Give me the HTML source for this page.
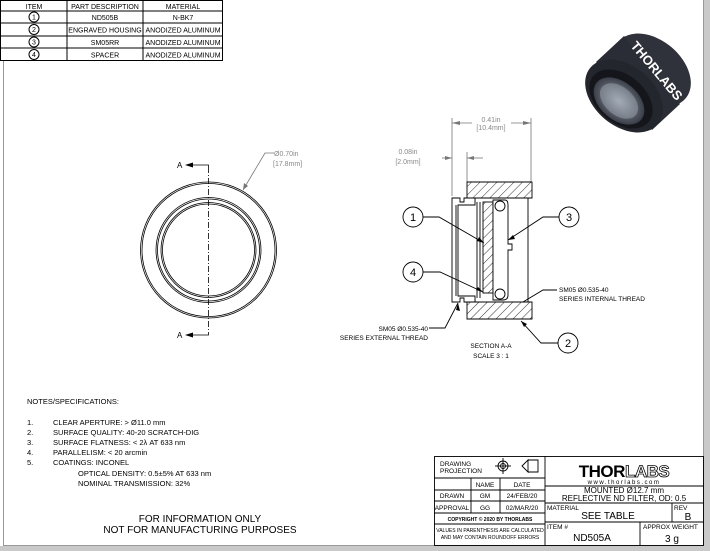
<!DOCTYPE html>
<html><head><meta charset="utf-8"><style>
html,body{margin:0;padding:0;background:#c9c9c9;}
svg{display:block;font-family:"Liberation Sans",sans-serif;}
</style></head><body>
<svg width="710" height="551" viewBox="0 0 710 551" xmlns="http://www.w3.org/2000/svg">
<defs>
<pattern id="h" width="6" height="6" patternUnits="userSpaceOnUse" patternTransform="rotate(45)">
<rect width="6" height="6" fill="#fff"/><line x1="0" y1="0" x2="0" y2="6" stroke="#000" stroke-width="0.8"/></pattern>
<radialGradient id="g1" cx="0.5" cy="0.5" r="0.5"><stop offset="0" stop-color="#9aa2ae"/><stop offset="1" stop-color="#3a3e48"/></radialGradient>
</defs>
<rect x="0" y="0" width="704" height="546" fill="#fff"/>
<line x1="703.5" y1="0" x2="703.5" y2="546" stroke="#999"/>
<line x1="3.5" y1="60" x2="3.5" y2="546" stroke="#999"/>
<line x1="3" y1="545.5" x2="704" y2="545.5" stroke="#999"/>

<g stroke="#000" fill="none" stroke-width="1">
<rect x="0.5" y="0.5" width="222" height="60"/>
<line x1="0" y1="11" x2="222" y2="11"/><line x1="0" y1="23" x2="222" y2="23"/>
<line x1="0" y1="36" x2="222" y2="36"/><line x1="0" y1="48" x2="222" y2="48"/>
<line x1="67" y1="0" x2="67" y2="61"/><line x1="143" y1="0" x2="143" y2="61"/>
<circle cx="34" cy="17" r="5"/><circle cx="34" cy="29.5" r="5"/><circle cx="34" cy="42" r="5"/><circle cx="34" cy="54.5" r="5"/>
</g>
<g font-size="7" text-anchor="middle" fill="#000">
<text x="34" y="9">ITEM</text><text x="105" y="9">PART DESCRIPTION</text><text x="183" y="9">MATERIAL</text>
<text x="34" y="19.5">1</text><text x="34" y="32">2</text><text x="34" y="44.5">3</text><text x="34" y="57">4</text>
<text x="105" y="20">ND505B</text><text x="183" y="20">N-BK7</text>
<text x="105" y="32.5">ENGRAVED HOUSING</text><text x="183" y="32.5">ANODIZED ALUMINUM</text>
<text x="105" y="45">SM05RR</text><text x="183" y="45">ANODIZED ALUMINUM</text>
<text x="105" y="57.5">SPACER</text><text x="183" y="57.5">ANODIZED ALUMINUM</text>
</g>

<!-- product photo -->
<g>
<ellipse cx="652" cy="70" rx="44" ry="30" transform="rotate(40 652 70)" fill="#2f323a"/>
<polygon points="624,36 680,104 652,130 596,62" fill="#2a2d35"/>
<ellipse cx="624" cy="96" rx="44" ry="30" transform="rotate(40 624 96)" fill="#23262d"/>
<ellipse cx="621" cy="99" rx="36" ry="24" transform="rotate(40 621 99)" fill="#14161b"/>
<ellipse cx="619" cy="101" rx="29" ry="19" transform="rotate(40 619 101)" fill="url(#g1)"/>
<ellipse cx="619" cy="101" rx="22" ry="14" transform="rotate(40 619 101)" fill="#b0b8c4" opacity="0.4"/>
<text x="0" y="0" transform="translate(630,46) rotate(50)" font-size="13" fill="#fff" font-weight="bold">THORLABS</text>
</g>

<g fill="none" stroke="#000" stroke-width="0.8">
<circle cx="208.5" cy="250" r="68"/><circle cx="208.5" cy="250" r="66.5"/>
<circle cx="208.5" cy="250" r="52.5"/><circle cx="208.5" cy="250" r="51"/>
<circle cx="208.5" cy="250" r="47.5"/><circle cx="208.5" cy="250" r="46"/>
<line x1="208.5" y1="167" x2="208.5" y2="333" stroke-dasharray="6,2,1,2"/>
<polyline points="208.5,167 208.5,165 188,165"/>
<polyline points="208.5,333 208.5,335 188,335"/>
</g>
<polygon points="185,165 193,162.5 193,167.5" fill="#000"/>
<polygon points="185,335 193,332.5 193,337.5" fill="#000"/>
<text x="177" y="168" font-size="8">A</text><text x="177" y="338" font-size="8">A</text>
<g stroke="#777" fill="none" stroke-width="0.8"><polyline points="243,190 265,153 274,153"/></g>
<polygon points="243,190 244,183 248,186" fill="#777"/>
<text x="274" y="156" font-size="7" fill="#888">Ø0.70in</text>
<text x="273" y="166" font-size="7" fill="#888">[17.8mm]</text>

<g stroke="#777" stroke-width="0.8" fill="none">
<line x1="452" y1="118" x2="452" y2="196"/><line x1="531" y1="118" x2="531" y2="182"/>
<line x1="452" y1="123" x2="472" y2="123"/><line x1="511" y1="123" x2="531" y2="123"/>
<line x1="467" y1="152" x2="467" y2="182"/>
<line x1="442" y1="158" x2="452" y2="158"/><line x1="467" y1="158" x2="483" y2="158"/>
</g>
<g fill="#777"><polygon points="452,123 460,121 460,125"/><polygon points="531,123 523,121 523,125"/>
<polygon points="452,158 445,156 445,160"/><polygon points="467,158 474,156 474,160"/></g>
<text x="491" y="122" font-size="7" fill="#888" text-anchor="middle">0.41in</text>
<text x="491" y="130" font-size="7" fill="#888" text-anchor="middle">[10.4mm]</text>
<text x="408" y="154" font-size="7" fill="#888" text-anchor="middle">0.08in</text>
<text x="408" y="164" font-size="7" fill="#888" text-anchor="middle">[2.0mm]</text>

<g stroke="#000" stroke-width="0.9">
<path d="M467,182 H532 V198 H475 V201 H467 Z" fill="url(#h)"/>
<path d="M467,319 H532 V302 H475 V299 H467 Z" fill="url(#h)"/>
<path d="M452,198 H460 V202 H464 V198 H475 V205 H458 V296 H475 V302 H464 V298 H460 V302 H452 Z" fill="#fff"/>
<rect x="483" y="202" width="10" height="91" fill="url(#h)"/>
<path d="M493,200 H505 Q508,200 508,205 V244 H512 V250 H508 V295 Q508,300 503,300 H493 Z" fill="#fff"/>
<circle cx="500" cy="206" r="5" fill="#fff"/><circle cx="500" cy="294" r="5" fill="#fff"/>
<line x1="528" y1="198" x2="528" y2="302"/>
<line x1="480" y1="202" x2="480" y2="298"/><line x1="477" y1="202" x2="477" y2="298"/>
<line x1="456" y1="205" x2="456" y2="296"/>
</g>

<g fill="#fff" stroke="#000" stroke-width="0.9">
<circle cx="413" cy="217" r="10"/><circle cx="569" cy="217" r="10"/>
<circle cx="413" cy="272" r="10"/><circle cx="568" cy="343" r="10"/>
</g>
<g font-size="11" text-anchor="middle"><text x="413" y="221">1</text><text x="569" y="221">3</text><text x="413" y="276">4</text><text x="568" y="347">2</text></g>
<g stroke="#000" fill="none" stroke-width="0.9">
<polyline points="423,217 439,217 484,243"/>
<polyline points="559,217 543,217 508,240"/>
<polyline points="423,272 440,272 483,292"/>
<polyline points="558,343 541,343 521,321"/>
<polyline points="557,290 543,290 523,302"/>
<polyline points="429,328 445,328 458,303"/>
</g>
<g fill="#000"><polygon points="484,243 477,241 479,237"/><polygon points="508,240 513,235 515,239"/>
<polygon points="483,292 476,290 478,287"/><polygon points="521,321 527,324 524,327"/><polygon points="458,303 456,310 460,311"/></g>
<g font-size="6.5">
<text x="559" y="292">SM05 Ø0.535-40</text><text x="559" y="301">SERIES INTERNAL THREAD</text>
<text x="428" y="331" text-anchor="end">SM05 Ø0.535-40</text><text x="428" y="340" text-anchor="end">SERIES EXTERNAL THREAD</text>
<text x="491" y="348" text-anchor="middle">SECTION A-A</text><text x="491" y="358" text-anchor="middle">SCALE 3 : 1</text>
</g>

<g font-size="7.5">
<text x="27" y="404">NOTES/SPECIFICATIONS:</text>
<text x="27" y="425">1.</text><text x="53" y="425">CLEAR APERTURE: &gt; Ø11.0 mm</text>
<text x="27" y="435">2.</text><text x="53" y="435">SURFACE QUALITY: 40-20 SCRATCH-DIG</text>
<text x="27" y="445">3.</text><text x="53" y="445">SURFACE FLATNESS: &lt; 2λ AT 633 nm</text>
<text x="27" y="455">4.</text><text x="53" y="455">PARALLELISM: &lt; 20 arcmin</text>
<text x="27" y="465">5.</text><text x="53" y="465">COATINGS: INCONEL</text>
<text x="78" y="476">OPTICAL DENSITY: 0.5±5% AT 633 nm</text>
<text x="78" y="486">NOMINAL TRANSMISSION: 32%</text>
</g>
<g font-size="10" text-anchor="middle"><text x="200" y="522">FOR INFORMATION ONLY</text><text x="200" y="533">NOT FOR MANUFACTURING PURPOSES</text></g>

<g stroke="#000" fill="none" stroke-width="0.9">
<rect x="434.5" y="456.5" width="269" height="89"/>
<line x1="545" y1="456" x2="545" y2="546"/>
<line x1="434" y1="478" x2="545" y2="478"/><line x1="434" y1="490" x2="545" y2="490"/>
<line x1="434" y1="501" x2="545" y2="501"/><line x1="434" y1="513" x2="545" y2="513"/>
<line x1="434" y1="524" x2="545" y2="524"/>
<line x1="471" y1="478" x2="471" y2="513"/><line x1="500" y1="478" x2="500" y2="513"/>
<line x1="545" y1="486" x2="704" y2="486"/><line x1="545" y1="503" x2="704" y2="503"/>
<line x1="545" y1="522" x2="704" y2="522"/>
<line x1="672" y1="503" x2="672" y2="522"/><line x1="640" y1="522" x2="640" y2="546"/>
<circle cx="503" cy="466" r="5"/><circle cx="503" cy="466" r="2.5"/>
<line x1="495" y1="466" x2="511" y2="466"/><line x1="503" y1="458" x2="503" y2="474"/>
<path d="M522,466 L528,460 V472 Z M528,460 H538 V472 H528"/>
</g>
<g font-size="6.5" fill="#000">
<text x="440" y="466">DRAWING</text><text x="440" y="473">PROJECTION</text>
<text x="485" y="487" text-anchor="middle">NAME</text><text x="522" y="487" text-anchor="middle">DATE</text>
<text x="452" y="498" text-anchor="middle">DRAWN</text><text x="485" y="498" text-anchor="middle">GM</text><text x="522" y="498" text-anchor="middle">24/FEB/20</text>
<text x="452" y="510" text-anchor="middle">APPROVAL</text><text x="485" y="510" text-anchor="middle">GG</text><text x="522" y="510" text-anchor="middle">02/MAR/20</text>
<text x="490" y="521" text-anchor="middle" font-size="5" font-weight="bold">COPYRIGHT © 2020 BY THORLABS</text>
<text x="490" y="532" text-anchor="middle" font-size="5">VALUES IN PARENTHESIS ARE CALCULATED</text>
<text x="490" y="539" text-anchor="middle" font-size="5">AND MAY CONTAIN ROUNDOFF ERRORS</text>
<text x="547" y="510">MATERIAL</text><text x="674" y="510">REV</text>
<text x="547" y="529">ITEM #</text><text x="643" y="529">APPROX WEIGHT</text>
</g>
<text x="624" y="477" font-size="17" font-weight="bold" text-anchor="middle" letter-spacing="-0.5">THOR<tspan fill="#fff" stroke="#000" stroke-width="0.8">LABS</tspan></text>
<text x="624" y="484" font-size="6" text-anchor="middle" letter-spacing="1.5">www.thorlabs.com</text>
<text x="624" y="493" font-size="8" text-anchor="middle">MOUNTED Ø12.7 mm</text>
<text x="624" y="501" font-size="8" text-anchor="middle">REFLECTIVE ND FILTER, OD: 0.5</text>
<text x="608" y="519" font-size="10" text-anchor="middle">SEE TABLE</text>
<text x="688" y="520" font-size="10" text-anchor="middle">B</text>
<text x="592" y="541" font-size="10" text-anchor="middle">ND505A</text>
<text x="672" y="542" font-size="10" text-anchor="middle">3 g</text>
</svg>
</body></html>
